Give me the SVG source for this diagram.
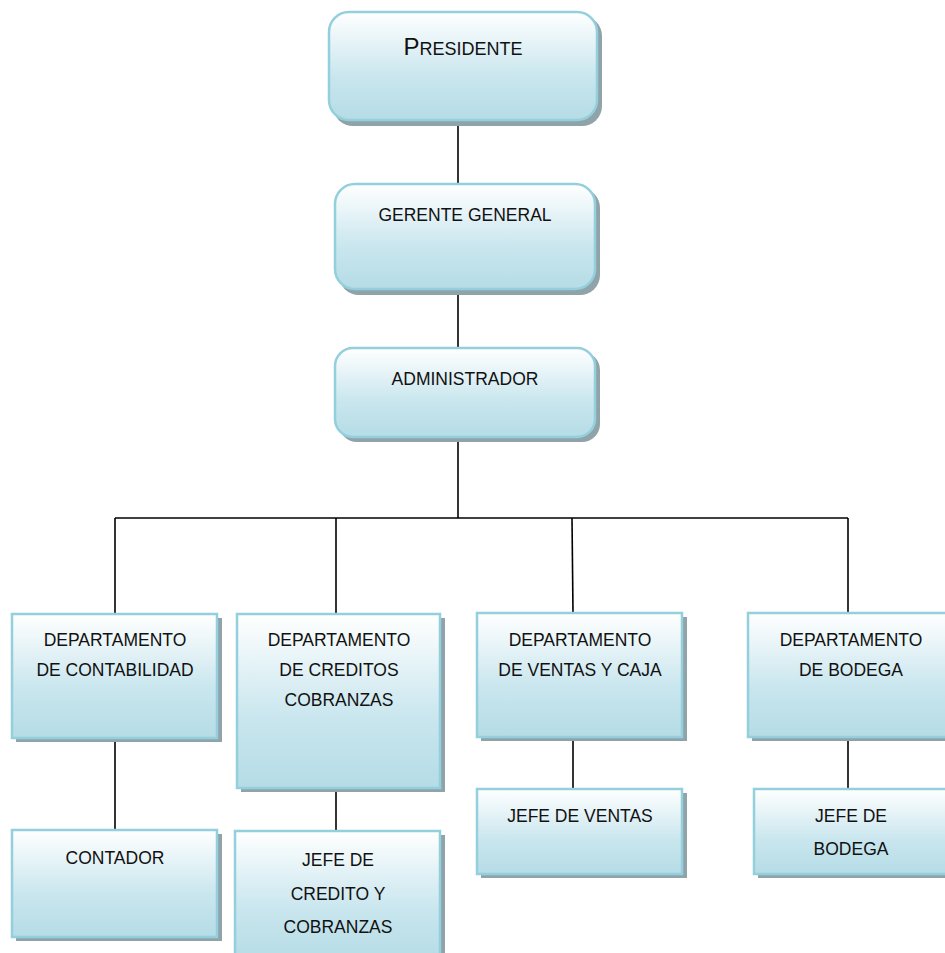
<svg xmlns="http://www.w3.org/2000/svg" width="945" height="953" viewBox="0 0 945 953">
<defs>
<linearGradient id="g" x1="0" y1="0" x2="0" y2="1">
<stop offset="0" stop-color="#ffffff"/>
<stop offset="0.6" stop-color="#c9e6ee"/>
<stop offset="1" stop-color="#b5dce6"/>
</linearGradient>
<style>
.box{fill:url(#g);stroke:#93cfdc;stroke-width:2.5}
.sh{fill:#8fa3a9}
.t{font-family:"Liberation Sans",Arial,sans-serif;font-size:17.5px;fill:#111;text-anchor:middle}
.c line{stroke:#000;stroke-width:1.6}
</style>
</defs>
<rect width="945" height="953" fill="#fff"/>
<g class="c">
<line x1="458" y1="120" x2="458" y2="184"/>
<line x1="458" y1="289" x2="458" y2="348"/>
<line x1="458" y1="437" x2="458" y2="518"/>
<line x1="115" y1="518" x2="848" y2="518"/>
<line x1="115" y1="518" x2="115" y2="614"/>
<line x1="336" y1="518" x2="336" y2="614"/>
<line x1="572" y1="518" x2="573" y2="613"/>
<line x1="848" y1="518" x2="848" y2="613"/>
<line x1="115" y1="738" x2="115" y2="830"/>
<line x1="336" y1="788" x2="336" y2="831"/>
<line x1="573" y1="737" x2="573" y2="789"/>
<line x1="848" y1="737" x2="848" y2="789"/>
</g>
<g id="presidente">
<rect class="sh" x="333" y="16" width="269" height="110" rx="20"/>
<rect class="box" x="329" y="12" width="268" height="108" rx="20"/>
<text class="t" x="463" y="55"><tspan font-size="24">P</tspan><tspan font-size="18">RESIDENTE</tspan></text>
</g>
<g id="gerente">
<rect class="sh" x="339" y="188" width="261" height="107" rx="20"/>
<rect class="box" x="335" y="184" width="260" height="105" rx="20"/>
<text class="t" x="465" y="221">GERENTE GENERAL</text>
</g>
<g id="administrador">
<rect class="sh" x="339" y="352" width="261" height="90" rx="18"/>
<rect class="box" x="335" y="348" width="260" height="89" rx="18"/>
<text class="t" x="465" y="385">ADMINISTRADOR</text>
</g>
<g id="dep-contabilidad">
<rect class="sh" x="16" y="618" width="206" height="124"/>
<rect class="box" x="12" y="614" width="205" height="124"/>
<text class="t" x="115" y="646">DEPARTAMENTO</text>
<text class="t" x="115" y="676">DE CONTABILIDAD</text>
</g>
<g id="dep-creditos">
<rect class="sh" x="241" y="618" width="204" height="174"/>
<rect class="box" x="237" y="614" width="203" height="174"/>
<text class="t" x="339" y="646">DEPARTAMENTO</text>
<text class="t" x="339" y="676">DE CREDITOS</text>
<text class="t" x="339" y="706">COBRANZAS</text>
</g>
<g id="dep-ventas">
<rect class="sh" x="481" y="617" width="206" height="124"/>
<rect class="box" x="477" y="613" width="205" height="124"/>
<text class="t" x="580" y="646">DEPARTAMENTO</text>
<text class="t" x="580" y="676">DE VENTAS Y CAJA</text>
</g>
<g id="dep-bodega">
<rect class="sh" x="752" y="617" width="200" height="124"/>
<rect class="box" x="748" y="613" width="200" height="124"/>
<text class="t" x="851" y="646">DEPARTAMENTO</text>
<text class="t" x="851" y="676">DE BODEGA</text>
</g>
<g id="contador">
<rect class="sh" x="16" y="834" width="206" height="107"/>
<rect class="box" x="12" y="830" width="205" height="107"/>
<text class="t" x="115" y="864">CONTADOR</text>
</g>
<g id="jefe-credito">
<rect class="sh" x="239" y="835" width="206" height="130"/>
<rect class="box" x="235" y="831" width="205" height="130"/>
<text class="t" x="338" y="866">JEFE DE</text>
<text class="t" x="338" y="900">CREDITO Y</text>
<text class="t" x="338" y="933">COBRANZAS</text>
</g>
<g id="jefe-ventas">
<rect class="sh" x="481" y="793" width="206" height="85"/>
<rect class="box" x="477" y="789" width="205" height="85"/>
<text class="t" x="580" y="822">JEFE DE VENTAS</text>
</g>
<g id="jefe-bodega">
<rect class="sh" x="758" y="793" width="200" height="85"/>
<rect class="box" x="754" y="789" width="200" height="85"/>
<text class="t" x="851" y="822">JEFE DE</text>
<text class="t" x="851" y="855">BODEGA</text>
</g>
</svg>
